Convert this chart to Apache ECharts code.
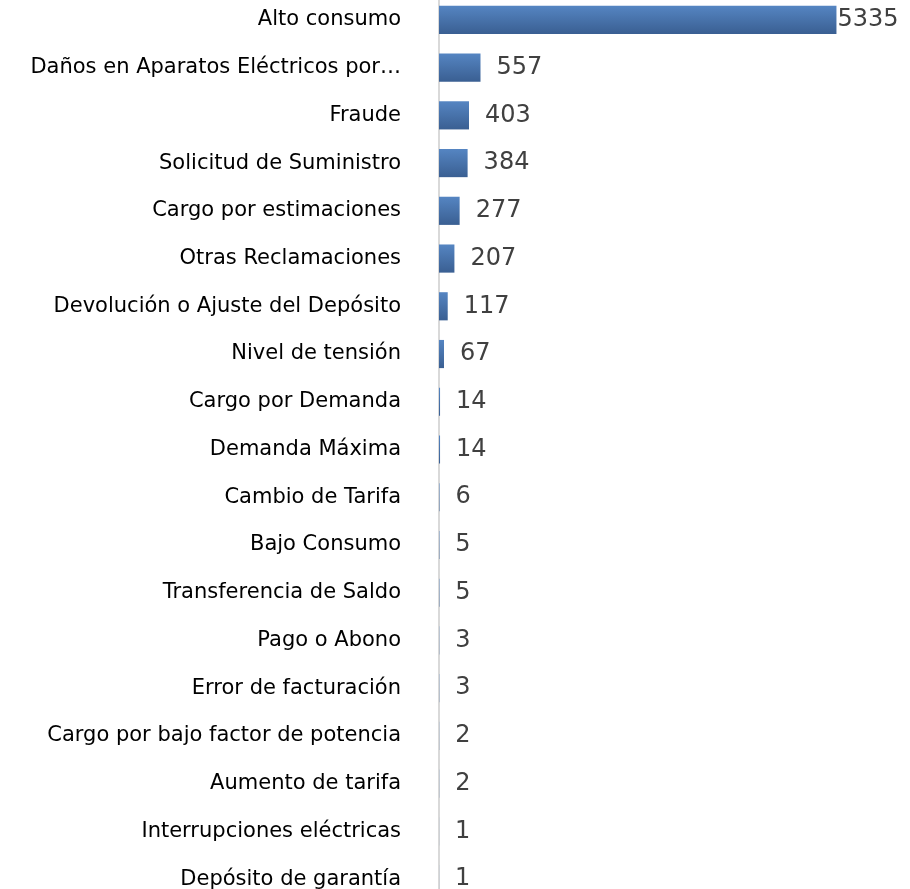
<!DOCTYPE html>
<html>
<head>
<meta charset="utf-8">
<script src="https://cdn.jsdelivr.net/npm/echarts@6/dist/echarts.min.js"></script>
<style>
html, body { margin: 0; padding: 0; background: #fff; overflow: hidden; }
#main { width: 910px; height: 907px; margin-top: -4px; }
</style>
</head>
<body>
<div id="main"></div>
<script>
var categories = [
    'Alto consumo',
    'Daños en Aparatos Eléctricos por…',
    'Fraude',
    'Solicitud de Suministro',
    'Cargo por estimaciones',
    'Otras Reclamaciones',
    'Devolución o Ajuste del Depósito',
    'Nivel de tensión',
    'Cargo por Demanda',
    'Demanda Máxima',
    'Cambio de Tarifa',
    'Bajo Consumo',
    'Transferencia de Saldo',
    'Pago o Abono',
    'Error de facturación',
    'Cargo por bajo factor de potencia',
    'Aumento de tarifa',
    'Interrupciones eléctricas',
    'Depósito de garantía'
];
var values = [5335, 557, 403, 384, 277, 207, 117, 67, 14, 14, 6, 5, 5, 3, 3, 2, 2, 1, 1];

var chart = echarts.init(document.getElementById('main'));

var barData = values.map(function (v, i) {
    // la primera etiqueta queda pegada a la barra
    if (i === 0) {
        return { value: v, label: { distance: 1 } };
    }
    return v;
});

var option = {
    animation: false,
    grid: {
        left: 439,
        right: 24,
        top: 0,
        bottom: 0,
        containLabel: false
    },
    xAxis: {
        type: 'value',
        min: 0,
        max: 6000,
        show: false
    },
    yAxis: {
        type: 'category',
        inverse: true,
        data: categories,
        axisLine: { show: true, lineStyle: { color: '#d9d9d9', width: 2 } },
        axisTick: { show: false },
        axisLabel: {
            margin: 38,
            color: '#000',
            fontSize: 21,
            fontFamily: 'DejaVu Sans'
        }
    },
    series: [
        {
            type: 'bar',
            data: barData,
            barCategoryGap: '41%',
            itemStyle: {
                color: new echarts.graphic.LinearGradient(0, 0, 0, 1, [
                    { offset: 0, color: '#5585c2' },
                    { offset: 1, color: '#3a5f92' }
                ])
            },
            label: {
                show: true,
                position: 'right',
                distance: 16,
                color: '#404040',
                fontSize: 24,
                fontFamily: 'DejaVu Sans'
            }
        }
    ]
};

chart.setOption(option);
</script>
</body>
</html>
